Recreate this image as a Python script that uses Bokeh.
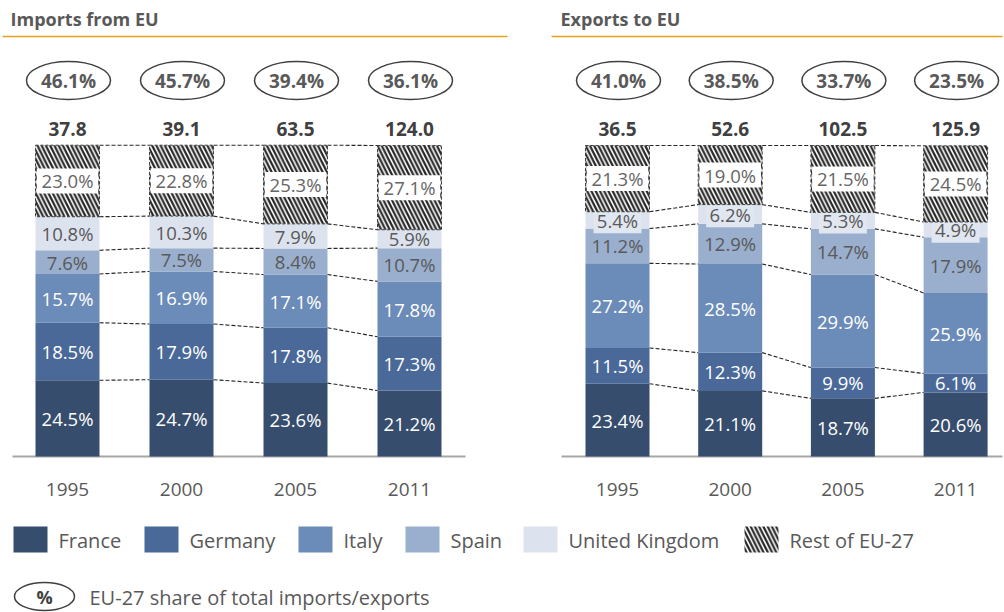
from bokeh.plotting import figure
from bokeh.models import Range1d
from bokeh.core.properties import value
from bokeh.embed import file_html
from bokeh.resources import INLINE

# ---------------- data ----------------
years = ["1995", "2000", "2005", "2011"]
countries = ["France", "Germany", "Italy", "Spain", "United Kingdom", "Rest of EU-27"]

imp_france = [24.5, 24.7, 23.6, 21.2]
imp_germany = [18.5, 17.9, 17.8, 17.3]
imp_italy = [15.7, 16.9, 17.1, 17.8]
imp_spain = [7.6, 7.5, 8.4, 10.7]
imp_uk = [10.8, 10.3, 7.9, 5.9]
imp_rest = [23.0, 22.8, 25.3, 27.1]
imp_total = [37.8, 39.1, 63.5, 124.0]
imp_share = [46.1, 45.7, 39.4, 36.1]

exp_france = [23.4, 21.1, 18.7, 20.6]
exp_germany = [11.5, 12.3, 9.9, 6.1]
exp_italy = [27.2, 28.5, 29.9, 25.9]
exp_spain = [11.2, 12.9, 14.7, 17.9]
exp_uk = [5.4, 6.2, 5.3, 4.9]
exp_rest = [21.3, 19.0, 21.5, 24.5]
exp_total = [36.5, 52.6, 102.5, 125.9]
exp_share = [41.0, 38.5, 33.7, 23.5]

# ---------------- style ----------------
colors = ["#364D6E", "#4A6999", "#6B8BB8", "#9AAFCE", "#DCE3EE", "#FFFFFF"]
label_colors = ["#FFFFFF", "#FFFFFF", "#FFFFFF", "#595959", "#595959", "#666666"]
GREY = "#595959"
ORANGE = "#E8A31E"
FONT = value("Open Sans")
HATCH = dict(hatch_pattern="\\", hatch_color="#262626", hatch_weight=2.2, hatch_scale=8.5)

W, H = 1004, 612
OFF = 0               # page offset of the canvas
Y0, S = 456.0, 3.11   # page y of the 0% baseline, pixels per percent


def Y(page_y):
    return (Y0 - page_y) / S


p = figure(width=W, height=H, x_range=Range1d(OFF, OFF + W), y_range=Range1d(Y(OFF + H), Y(OFF)),
           output_backend="svg", toolbar_location=None, min_border=0,
           x_axis_location=None, y_axis_location=None)
p.grid.visible = False
p.outline_line_color = None
p.background_fill_color = "white"
p.border_fill_color = "white"

BW = 64


def txt(x, y, t, size, color=GREY, bold=False, align="center"):
    p.text(x=x, y=y, text=t, text_align=align, text_baseline="middle",
           text_font=FONT, text_font_size=value(size), text_color=color,
           text_font_style="bold" if bold else "normal")


def panel(series, totals, shares, x0, dx, title, title_x, rule, axis, boxed_uk):
    xs = [x0 + i * dx for i in range(len(years))]
    # title and orange rule
    txt([title_x], [Y(18)], [title], "18px", bold=True, align="left")
    p.segment(x0=[rule[0]], y0=[Y(36)], x1=[rule[1]], y1=[Y(36)], line_color=ORANGE, line_width=1.6)
    # baseline
    p.segment(x0=[axis[0]], y0=[0], x1=[axis[1]], y1=[0], line_color="#A6A6A6", line_width=2)

    bottoms = [0.0] * len(xs)
    bounds = []
    for k, vals in enumerate(series):
        tops = [b + v for b, v in zip(bottoms, vals)]
        mids = [(b + t) / 2 for b, t in zip(bottoms, tops)]
        if k == len(series) - 1:
            p.vbar(x=xs, bottom=bottoms, top=tops, width=BW, fill_color="white",
                   line_color="#404040", line_dash="3 2", line_width=1, **HATCH)
            p.rect(x=xs, y=mids, width=BW - 2.5, height=25, height_units="screen",
                   fill_color="white", line_color=None)
        else:
            p.vbar(x=xs, bottom=bottoms, top=tops, width=BW, fill_color=colors[k], line_color=None)
            if k == 4 and boxed_uk:
                p.rect(x=xs, y=mids, width=48, height=26, width_units="screen", height_units="screen",
                       fill_color="#E1E7F0", line_color=None)
        txt(xs, mids, [f"{v:.1f}%" for v in vals], "18.5px", color=label_colors[k])
        bounds.append(tops)
        bottoms = tops

    # dashed connectors between bars
    for b in bounds:
        p.segment(x0=[x + BW / 2 for x in xs[:-1]], y0=b[:-1],
                  x1=[x - BW / 2 for x in xs[1:]], y1=b[1:],
                  line_color="#262626", line_dash="4 2", line_width=1.1)

    # totals and share ellipses
    txt(xs, [Y(128)] * len(xs), [f"{t:.1f}" for t in totals], "19px", color="#404040", bold=True)
    p.ellipse(x=[x + 1 for x in xs], y=[Y(80)] * len(xs), width=84, height=38,
              width_units="screen", height_units="screen",
              fill_color=None, line_color="#404040", line_width=1.5)
    txt([x + 1 for x in xs], [Y(80)] * len(xs), [f"{s:.1f}%" for s in shares], "19px",
        color=GREY, bold=True)
    # year labels
    txt(xs, [Y(489)] * len(xs), years, "19px", color=GREY)


panel([imp_france, imp_germany, imp_italy, imp_spain, imp_uk, imp_rest], imp_total, imp_share,
      67, 114, "Imports from EU", 10, (2, 507), (12, 465), False)
panel([exp_france, exp_germany, exp_italy, exp_spain, exp_uk, exp_rest], exp_total, exp_share,
      617, 112.7, "Exports to EU", 560, (551, 1002), (561, 1002), True)

# ---------------- legend ----------------
leg_sw = [30, 161, 315, 422, 540, 761]
leg_tx = [58, 189, 343, 450, 568, 789]
for k, name in enumerate(countries):
    if k == len(countries) - 1:
        p.rect(x=[leg_sw[k]], y=[Y(539)], width=34, height=26, width_units="screen",
               height_units="screen", fill_color="white", line_color=None, **HATCH)
    else:
        p.rect(x=[leg_sw[k]], y=[Y(539)], width=34, height=26, width_units="screen",
               height_units="screen", fill_color=colors[k], line_color=None)
    txt([leg_tx[k]], [Y(540)], [name], "20px", align="left")

p.ellipse(x=[44], y=[Y(596)], width=60, height=28, width_units="screen", height_units="screen",
          fill_color=None, line_color="#404040", line_width=1.5)
txt([44], [Y(596)], ["%"], "18px", color="#404040", bold=True)
txt([89], [Y(597)], ["EU-27 share of total imports/exports"], "20px", align="left")

open("out.html", "w").write(file_html(p, INLINE))
